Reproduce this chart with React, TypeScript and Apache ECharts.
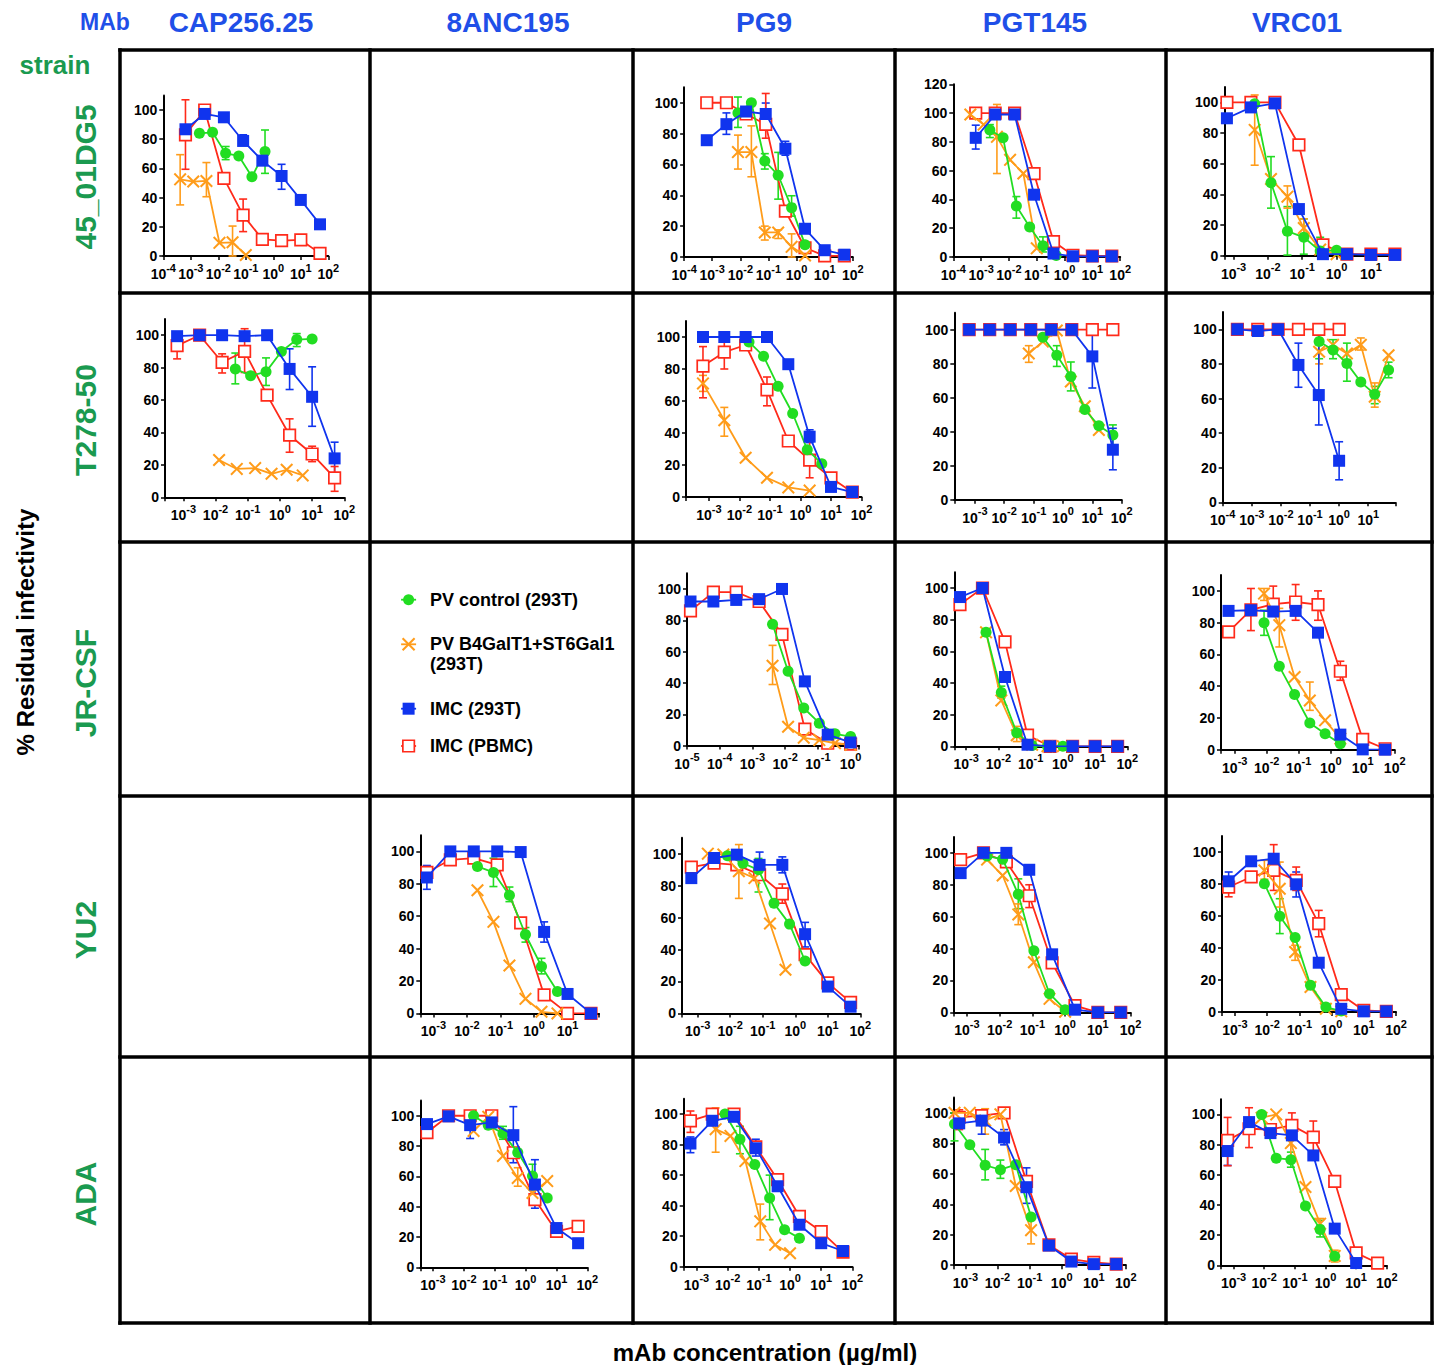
import React, { useEffect, useRef } from 'react';
import * as echarts from 'echarts';

const FONT = '"Liberation Sans", Arial, Helvetica, sans-serif';
const GREEN = '#22dd22';
const ORANGE = '#ff9c1a';
const BLUE = '#1034ee';
const RED = '#ff2a1a';
const HEAD_BLUE = '#1f4fe8';
const LABEL_GREEN = '#1a9a50';

// ---------- texts ----------
const MABS = ['CAP256.25', '8ANC195', 'PG9', 'PGT145', 'VRC01'];
const STRAINS = ['45_01DG5', 'T278-50', 'JR-CSF', 'YU2', 'ADA'];
const LEGEND_NAMES = ['PV control (293T)', 'PV B4GalT1+ST6Gal1', 'IMC (293T)', 'IMC (PBMC)'];
const Y_TICKS = [0, 20, 40, 60, 80, 100];
const Y_TICKS_120 = [0, 20, 40, 60, 80, 100, 120];

// ---------- concentrations (µg/ml) ----------
const C5_50 = [0.00064, 0.0032, 0.016, 0.08, 0.4, 2, 10, 50];
const C5_50_7 = [0.00064, 0.0032, 0.016, 0.08, 0.4, 2, 10];
const C5_50_6 = [0.00064, 0.0032, 0.016, 0.08, 0.4, 2];
const C5_1_6 = [0.00032, 0.0016, 0.008, 0.04, 0.2, 1];
const C5_1_8 = [0.0000128, 0.000064, 0.00032, 0.0016, 0.008, 0.04, 0.2, 1];
const C3_50 = [0.206, 0.617, 1.85, 5.56, 16.7, 50];
const C3_10 = [0.0412, 0.123, 0.37, 1.11, 3.33, 10];
const C3_5 = [0.0206, 0.0617, 0.185, 0.556, 1.67, 5];
const C3_2 = [0.00823, 0.0247, 0.0741, 0.222, 0.667, 2];
const C3_1 = [0.00412, 0.0123, 0.037, 0.111, 0.333, 1];
const C3_05 = [0.00206, 0.00617, 0.0185, 0.0556, 0.167, 0.5];
const C3_011 = [0.000457, 0.00137, 0.00412, 0.0123, 0.037, 0.111];
const C3_01 = [0.00041, 0.00123, 0.0037, 0.011, 0.033, 0.1];
const C_CAP_T278_GAL = [0.0129, 0.0457, 0.17, 0.55, 1.62, 5.1];
const C_PGT_T278_GAL = [0.0686, 0.206, 0.617, 1.85, 5.56, 16.7];

// ---------- 45_01DG5 ----------
const cap_s45_pv = [84, 84.7, 70.3, 68.5, 54.3, 71.5];
const cap_s45_pv_err = [[0.0185, 66, 75], [0.5, 56.6, 86.3]];
const cap_s45_gal = [52.5, 51, 51.4, 9, 9.4, 0.7];
const cap_s45_gal_err = [[0.00041, 35, 69.4], [0.0037, 40.6, 64], [0.033, 0, 20.5]];
const cap_s45_imc = [86.8, 97.3, 95, 78.8, 65.3, 54.8, 38.4, 21.7];
const cap_s45_imc_err = [[0.08, 76, 83], [2, 45.7, 62.8]];
const cap_s45_pbmc = [83, 100, 53.2, 28, 11.4, 10.5, 11, 1.8];
const cap_s45_pbmc_err = [[0.00064, 59.4, 107], [0.08, 16.7, 39]];

const pg9_s45_pv = [93.4, 100, 62.2, 53, 32, 8];
const pg9_s45_pv_err = [[0.00823, 84, 103.7], [0.0741, 57, 67], [0.222, 37.5, 67.8], [0.667, 26.5, 39.7]];
const pg9_s45_gal = [68, 68, 15.9, 15.9, 6.6, 1];
const pg9_s45_gal_err = [[0.00823, 57, 79], [0.0247, 52, 85], [0.0741, 11, 20], [0.222, 12, 17.6], [0.667, 0, 15]];
const pg9_s45_imc = [75.7, 86.1, 94.3, 92.7, 70.2, 18.3, 4.4, 1.5];
const pg9_s45_imc_err = [[0.0032, 79.5, 93.4], [0.08, 85, 99.8], [0.4, 66, 75]];
const pg9_s45_pbmc = [100, 100, 92.7, 86, 29.8, 6, 0.7, 0.7];
const pg9_s45_pbmc_err = [[0.08, 77, 106]];

const pgt_s45_pv = [88.3, 82.8, 35.5, 20.8, 7.8, 1];
const pgt_s45_pv_err = [[0.00206, 83, 92], [0.0185, 27, 42], [0.167, 3.5, 14]];
const pgt_s45_gal = [99, 92, 83.5, 67.5, 58, 6];
const pgt_s45_gal_err = [[0.0037, 58, 106]];
const pgt_s45_imc = [82.8, 99, 99, 43.3, 2.4, 0.5, 0.5, 0.5];
const pgt_s45_imc_err = [[0.00064, 75, 91.6]];
const pgt_s45_pbmc = [100, 100, 100, 58, 10.7, 1.2, 0.7, 0.7];

const vrc_s45_pv = [99, 47.6, 16, 12, 3, 3.5];
const vrc_s45_pv_err = [[0.0123, 31, 64.6], [0.037, 0.4, 32], [0.111, 1, 24], [0.333, 1, 12]];
const vrc_s45_gal = [82, 50, 38.5, 18, 4, 1];
const vrc_s45_gal_err = [[0.00412, 59, 104.8], [0.037, 31, 45.5], [0.111, 12, 24]];
const vrc_s45_imc = [89.6, 96.7, 99.3, 30.4, 1, 1, 0.5, 0.5];
const vrc_s45_pbmc = [100, 100, 100, 72.2, 7, 1, 1, 1];

// ---------- T278-50 ----------
const cap_t278_pv = [79.2, 75, 77.4, 90, 97.3, 97.7];
const cap_t278_pv_err = [[0.0412, 70, 89], [0.37, 69, 86], [3.33, 93, 101]];
const cap_t278_gal = [23, 17.5, 18, 14.5, 17, 13.5];
const cap_t278_imc = [99.4, 100, 100, 99.4, 100, 79.2, 62, 24];
const cap_t278_imc_err = [[2, 66.5, 91.6], [10, 43.8, 80.5], [50, 12.6, 34]];
const cap_t278_pbmc = [93.6, 100, 83.3, 90, 63, 38.3, 26.7, 12];
const cap_t278_pbmc_err = [[0.00064, 85.4, 101], [0.016, 76.7, 88.5], [0.08, 77, 104], [2, 27.8, 48.4], [10, 22, 31.5], [50, 3.7, 19]];

const pg9_t278_pv = [96.9, 88, 69.2, 52.2, 29.6, 20.8];
const pg9_t278_gal = [71, 48, 24.5, 12, 6, 4];
const pg9_t278_gal_err = [[0.00064, 66, 76], [0.0032, 38, 56]];
const pg9_t278_imc = [100, 100, 100, 100, 83, 37.7, 6.3, 3.1];
const pg9_t278_imc_err = [[2, 34, 42]];
const pg9_t278_pbmc = [81.8, 90.5, 95, 67, 35, 23, 12, 3];
const pg9_t278_pbmc_err = [[0.00064, 62, 94], [0.0032, 80, 98], [0.08, 57, 75], [2, 12, 38]];

const pgt_t278_pv = [95.5, 85, 72.5, 53, 43.5, 38];
const pgt_t278_pv_err = [[0.617, 78.4, 90.6], [1.85, 64, 81], [50, 31.4, 44]];
const pgt_t278_gal = [86, 93, 99.5, 69.5, 55, 41];
const pgt_t278_gal_err = [[0.0686, 80.8, 90.6]];
const pgt_t278_imc = [100, 100, 100, 100, 100, 100, 84.3, 29.4];
const pgt_t278_imc_err = [[10, 65.7, 100], [50, 17.6, 42]];
const pgt_t278_pbmc = [100, 100, 100, 100, 100, 100, 100, 100];

const vrc_t278_pv = [93, 88, 80.3, 69.5, 62.5, 76.5];
const vrc_t278_pv_err = [[0.206, 83, 100], [0.617, 83, 94], [1.85, 70, 92], [16.7, 57, 67], [50, 72, 81]];
const vrc_t278_gal = [87, 91, 86, 91, 61, 85];
const vrc_t278_gal_err = [[0.206, 80, 92], [5.56, 88, 95], [16.7, 55, 69]];
const vrc_t278_imc = [100, 99, 100, 79.4, 62, 24];
const vrc_t278_imc_err = [[0.04, 66.5, 92], [0.2, 44.7, 96.7], [1, 13, 35]];
const vrc_t278_pbmc = [100, 100, 100, 100, 100, 100];

// ---------- JR-CSF ----------
const pg9_jr_pv = [77.5, 47.5, 24, 14.3, 7.5, 5.8];
const pg9_jr_gal = [51, 12, 5, 3.5, 1.5, 0.5];
const pg9_jr_gal_err = [[0.00412, 39, 64]];
const pg9_jr_imc = [92, 92, 93, 93.5, 100, 41, 7, 2];
const pg9_jr_pbmc = [86, 98, 98, 92, 71, 10.5, 1.5, 1];

const pgt_jr_pv = [72, 34, 8.5, 0.5, 0, 0];
const pgt_jr_pv_err = [[0.0123, 30.5, 38]];
const pgt_jr_gal = [72, 29, 7, 1, 0, 0];
const pgt_jr_gal_err = [[0.037, 3, 12.6]];
const pgt_jr_imc = [94.3, 100, 43.8, 1, 0, 0, 0, 0];
const pgt_jr_pbmc = [89.5, 100, 66, 7, 0, 0, 0, 0];

const vrc_jr_pv = [80, 52.5, 34.7, 16.8, 10, 3.8];
const vrc_jr_pv_err = [[0.00823, 72, 87.8]];
const vrc_jr_gal = [98.3, 78.4, 45.8, 31, 18.5, 7];
const vrc_jr_gal_err = [[0.00823, 94, 101.5], [0.0247, 64.7, 89], [0.222, 24.8, 42.6]];
const vrc_jr_imc = [87.4, 87.8, 87, 87.4, 73.7, 9.5, 0.2, 0];
const vrc_jr_pbmc = [74.2, 88, 91.6, 93, 91.4, 49.4, 6.5, 0.6];
const vrc_jr_pbmc_err = [[0.0032, 75, 101.5], [0.016, 85, 103], [0.08, 81.5, 104], [0.4, 81.5, 100], [2, 43.7, 55.7]];

// ---------- YU2 ----------
const anc_yu2_pv = [90.7, 87, 73, 48.7, 29, 13.5];
const anc_yu2_pv_err = [[0.0617, 78.3, 95.8], [0.185, 69, 78], [0.556, 44, 53], [1.67, 24.4, 34]];
const anc_yu2_gal = [76, 56.5, 29.6, 9, 1, 0];
const anc_yu2_imc = [83.9, 100, 100, 100, 99.6, 50.3, 12, 0];
const anc_yu2_imc_err = [[0.00064, 76.6, 91.3], [2, 44, 56.5]];
const anc_yu2_pbmc = [87, 94.8, 95.9, 91.7, 55.9, 11.4, 0, 0];

const pg9_yu2_pv = [98.7, 94, 89.9, 68.9, 55.9, 32.8];
const pg9_yu2_pv_err = [[0.0741, 76, 97]];
const pg9_yu2_gal = [100, 99.5, 89, 84.7, 56.3, 27.3];
const pg9_yu2_gal_err = [[0.0185, 72, 105.7]];
const pg9_yu2_imc = [84.7, 97.3, 99.4, 93, 93, 49.6, 16.8, 4.2];
const pg9_yu2_imc_err = [[0.08, 85, 101], [0.4, 88, 98], [2, 41.6, 57]];
const pg9_yu2_pbmc = [91.6, 94.1, 93, 86.8, 74.8, 36.8, 19.1, 6.9];
const pg9_yu2_pbmc_err = [[0.4, 69, 81]];

const pgt_yu2_pv = [98, 96, 74, 38.6, 11.7, 1.7];
const pgt_yu2_pv_err = [[0.037, 65, 83.7]];
const pgt_yu2_gal = [95.8, 85.8, 61.4, 31.4, 8.5, 0.4];
const pgt_yu2_gal_err = [[0.037, 55, 68]];
const pgt_yu2_imc = [87.3, 100, 100, 89.4, 36.4, 1.7, 0, 0];
const pgt_yu2_pbmc = [95.8, 100, 94.3, 73.1, 31.1, 4.2, 0, 0];
const pgt_yu2_pbmc_err = [[0.08, 65.7, 80]];

const vrc_yu2_pv = [80.2, 59.8, 46.5, 16.7, 3.1, 0.6];
const vrc_yu2_pv_err = [[0.0247, 49, 70.8]];
const vrc_yu2_gal = [88.5, 77, 37.5, 15.6, 2, 0.4];
const vrc_yu2_gal_err = [[0.00823, 83, 94.8], [0.0247, 65.6, 93.7], [0.0741, 32.3, 41.7]];
const vrc_yu2_imc = [81.7, 94.2, 95.8, 79.8, 30.8, 2, 0.4, 0.4];
const vrc_yu2_imc_err = [[0.00064, 77, 87.5], [0.08, 71.9, 87.5]];
const vrc_yu2_pbmc = [78.1, 84.4, 88.5, 82.3, 55.2, 10.8, 1, 0.4];
const vrc_yu2_pbmc_err = [[0.00064, 72, 84], [0.016, 76, 104.6], [0.08, 76, 90.6], [0.4, 47, 63.5]];

// ---------- ADA ----------
const anc_ada_pv = [100, 93.8, 88.3, 75.7, 60.2, 45.8];
const anc_ada_pv_err = [[0.185, 84.5, 93], [1.67, 51, 68]];
const anc_ada_gal = [90, 99.3, 73.5, 59, 49, 56.9];
const anc_ada_gal_err = [[0.556, 53.5, 65.7]];
const anc_ada_imc = [94.5, 99.6, 93.8, 95.6, 87.2, 54.6, 25.9, 15.9];
const anc_ada_imc_err = [[0.016, 85, 100], [0.4, 69, 106], [2, 39, 71]];
const anc_ada_pbmc = [88.9, 100, 100, 100, 75.6, 44.7, 23.7, 27];

const pg9_ada_pv = [100, 83.5, 67, 45, 24.2, 18.7];
const pg9_ada_pv_err = [[0.0247, 74, 92], [0.222, 30.8, 60]];
const pg9_ada_gal = [90.1, 85.7, 69.2, 29.7, 14.3, 8.8];
const pg9_ada_gal_err = [[0.00412, 75, 104], [0.111, 17.6, 41]];
const pg9_ada_imc = [80.7, 95.6, 98.2, 77.6, 52.7, 27.5, 15.4, 10.3];
const pg9_ada_imc_err = [[0.00064, 74.7, 85], [0.08, 72.5, 83.5]];
const pg9_ada_pbmc = [95.6, 100, 100, 78.5, 57.1, 33, 23, 9.5];
const pg9_ada_pbmc_err = [[0.00064, 88, 102]];

const pgt_ada_pv = [92.7, 79, 65.6, 62.7, 66, 31.7];
const pgt_ada_pv_err = [[0.000457, 81.6, 100], [0.00412, 56, 76], [0.0123, 57, 69]];
const pgt_ada_gal = [100, 100, 95, 99, 52, 23];
const pgt_ada_gal_err = [[0.00412, 86, 102.7], [0.111, 14, 29.5]];
const pgt_ada_imc = [93.1, 94.9, 83.8, 51.2, 12.9, 2.4, 0.7, 0.7];
const pgt_ada_imc_err = [[0.0032, 86, 101], [0.016, 79, 89], [0.08, 40.6, 63.9]];
const pgt_ada_pbmc = [97.1, 98.2, 100, 55, 13.3, 4, 1.8, 0.7];
const pgt_ada_pbmc_err = [[0.00064, 89, 102]];

const vrc_ada_pv = [100, 71, 70, 39.3, 23.8, 6];
const vrc_ada_pv_err = [[0.0741, 65, 75], [0.667, 18.8, 29.8]];
const vrc_ada_gal = [97.8, 100, 81, 51.9, 27.6, 6.2];
const vrc_ada_gal_err = [[0.0741, 71.7, 88], [0.667, 23, 31], [2, 2.2, 10]];
const vrc_ada_imc = [75.7, 94.9, 87.6, 86.1, 72.8, 24.3, 1.5];
const vrc_ada_imc_err = [[0.00064, 66.2, 82.8]];
const vrc_ada_pbmc = [82.8, 90.5, 90, 92.7, 85, 55.6, 8.2, 1.5];
const vrc_ada_pbmc_err = [[0.00064, 66, 98], [0.0032, 78, 104.4], [0.08, 85, 101], [0.4, 74, 95.6]];

// ---------- layout (page px): left, top, right, bottom, log10(xmin), log10(xmax), ymax ----------
const PANEL_LAYOUT: number[][] = [
  [163.3, 95.4, 328.3, 256, -4, 2, 110],
  [684.1, 87.3, 852.8, 257, -4, 2, 110],
  [953.3, 84.3, 1120.2, 257, -4, 2, 120],
  [1224.3, 87, 1397.7, 255.7, -3.27, 1.78, 110],
  [165, 319, 344.3, 497.3, -3.57, 2, 110],
  [686, 321, 861.5, 497, -3.75, 2, 110],
  [954.3, 312.7, 1121.7, 499.7, -3.7, 2, 110],
  [1222.7, 312, 1395.3, 502.3, -4, 1.93, 110],
  [687, 573.3, 859.1, 745.6, -5, 0.26, 110],
  [954.3, 572.2, 1127.3, 746.3, -3.37, 2, 110],
  [1221, 575, 1394.7, 749.7, -3.43, 2, 110],
  [420.3, 835.2, 599.1, 1013.4, -3.39, 1.94, 110],
  [682, 837.7, 860.4, 1013.4, -3.48, 2, 110],
  [954.2, 836.9, 1130.6, 1012.4, -3.39, 2, 110],
  [1222, 836, 1396, 1012, -3.4, 2, 110],
  [420.3, 1100.6, 587.4, 1267.3, -3.41, 2, 110],
  [683.7, 1098.8, 852.4, 1266.7, -3.41, 2, 110],
  [954.2, 1097.6, 1125.9, 1265.2, -3.35, 2, 110],
  [1221, 1099.3, 1386.8, 1265.3, -3.41, 2, 110],
];

const TABLE_X = [120, 370, 633, 895, 1166, 1432];
const TABLE_Y = [50, 293, 542, 796, 1057, 1323];
const HEADER_X = [241, 508, 764, 1035, 1297];
const ROW_Y = [177, 420, 683, 930, 1194];

// series table per panel: [green PV control, orange PV B4GalT1+ST6Gal1, blue IMC 293T, red IMC PBMC]
type Trip = [number[], number[], number[][]];
const PANEL_SERIES: Trip[][] = [
  [[C3_05, cap_s45_pv, cap_s45_pv_err], [C3_01, cap_s45_gal, cap_s45_gal_err], [C5_50, cap_s45_imc, cap_s45_imc_err], [C5_50, cap_s45_pbmc, cap_s45_pbmc_err]],
  [[C3_2, pg9_s45_pv, pg9_s45_pv_err], [C3_2, pg9_s45_gal, pg9_s45_gal_err], [C5_50, pg9_s45_imc, pg9_s45_imc_err], [C5_50, pg9_s45_pbmc, pg9_s45_pbmc_err]],
  [[C3_05, pgt_s45_pv, pgt_s45_pv_err], [C3_01, pgt_s45_gal, pgt_s45_gal_err], [C5_50, pgt_s45_imc, pgt_s45_imc_err], [C5_50, pgt_s45_pbmc, []]],
  [[C3_1, vrc_s45_pv, vrc_s45_pv_err], [C3_1, vrc_s45_gal, vrc_s45_gal_err], [C5_50, vrc_s45_imc, []], [C5_50, vrc_s45_pbmc, []]],
  [[C3_10, cap_t278_pv, cap_t278_pv_err], [C_CAP_T278_GAL, cap_t278_gal, []], [C5_50, cap_t278_imc, cap_t278_imc_err], [C5_50, cap_t278_pbmc, cap_t278_pbmc_err]],
  [[C3_5, pg9_t278_pv, []], [C5_50_6, pg9_t278_gal, pg9_t278_gal_err], [C5_50, pg9_t278_imc, pg9_t278_imc_err], [C5_50, pg9_t278_pbmc, pg9_t278_pbmc_err]],
  [[C3_50, pgt_t278_pv, pgt_t278_pv_err], [C_PGT_T278_GAL, pgt_t278_gal, pgt_t278_gal_err], [C5_50, pgt_t278_imc, pgt_t278_imc_err], [C5_50, pgt_t278_pbmc, []]],
  [[C3_50, vrc_t278_pv, vrc_t278_pv_err], [C3_50, vrc_t278_gal, vrc_t278_gal_err], [C5_1_6, vrc_t278_imc, vrc_t278_imc_err], [C5_1_6, vrc_t278_pbmc, []]],
  [[C3_1, pg9_jr_pv, []], [C3_1, pg9_jr_gal, pg9_jr_gal_err], [C5_1_8, pg9_jr_imc, []], [C5_1_8, pg9_jr_pbmc, []]],
  [[C3_1, pgt_jr_pv, pgt_jr_pv_err], [C3_1, pgt_jr_gal, pgt_jr_gal_err], [C5_50, pgt_jr_imc, []], [C5_50, pgt_jr_pbmc, []]],
  [[C3_2, vrc_jr_pv, vrc_jr_pv_err], [C3_2, vrc_jr_gal, vrc_jr_gal_err], [C5_50, vrc_jr_imc, []], [C5_50, vrc_jr_pbmc, vrc_jr_pbmc_err]],
  [[C3_5, anc_yu2_pv, anc_yu2_pv_err], [C3_5, anc_yu2_gal, []], [C5_50, anc_yu2_imc, anc_yu2_imc_err], [C5_50, anc_yu2_pbmc, []]],
  [[C3_2, pg9_yu2_pv, pg9_yu2_pv_err], [C3_05, pg9_yu2_gal, pg9_yu2_gal_err], [C5_50, pg9_yu2_imc, pg9_yu2_imc_err], [C5_50, pg9_yu2_pbmc, pg9_yu2_pbmc_err]],
  [[C3_1, pgt_yu2_pv, pgt_yu2_pv_err], [C3_1, pgt_yu2_gal, pgt_yu2_gal_err], [C5_50, pgt_yu2_imc, []], [C5_50, pgt_yu2_pbmc, pgt_yu2_pbmc_err]],
  [[C3_2, vrc_yu2_pv, vrc_yu2_pv_err], [C3_2, vrc_yu2_gal, vrc_yu2_gal_err], [C5_50, vrc_yu2_imc, vrc_yu2_imc_err], [C5_50, vrc_yu2_pbmc, vrc_yu2_pbmc_err]],
  [[C3_5, anc_ada_pv, anc_ada_pv_err], [C3_5, anc_ada_gal, anc_ada_gal_err], [C5_50, anc_ada_imc, anc_ada_imc_err], [C5_50, anc_ada_pbmc, []]],
  [[C3_2, pg9_ada_pv, pg9_ada_pv_err], [C3_1, pg9_ada_gal, pg9_ada_gal_err], [C5_50, pg9_ada_imc, pg9_ada_imc_err], [C5_50, pg9_ada_pbmc, pg9_ada_pbmc_err]],
  [[C3_011, pgt_ada_pv, pgt_ada_pv_err], [C3_011, pgt_ada_gal, pgt_ada_gal_err], [C5_50, pgt_ada_imc, pgt_ada_imc_err], [C5_50, pgt_ada_pbmc, pgt_ada_pbmc_err]],
  [[C3_2, vrc_ada_pv, vrc_ada_pv_err], [C3_2, vrc_ada_gal, vrc_ada_gal_err], [C5_50_7, vrc_ada_imc, vrc_ada_imc_err], [C5_50, vrc_ada_pbmc, vrc_ada_pbmc_err]],
];

const X_PATH = 'path://M0,1.1L1.1,0L5,3.9L8.9,0L10,1.1L6.1,5L10,8.9L8.9,10L5,6.1L1.1,10L0,8.9L3.9,5Z';

const KINDS = [
  { color: GREEN, symbol: 'circle', size: 11, z: 5 },
  { color: ORANGE, symbol: X_PATH, size: 13, z: 4 },
  { color: BLUE, symbol: 'rect', size: 12, z: 6 },
  { color: RED, symbol: 'rect', size: 11.5, z: 3 },
];

const RICH = {
  b: { fontSize: 14, fontWeight: 'bold', fontFamily: FONT, color: '#000', padding: [5, 0, 0, 0] },
  s: { fontSize: 11, fontWeight: 'bold', fontFamily: FONT, color: '#000', verticalAlign: 'top' },
};

function decadeLabel(v: number): string {
  const e = Math.log10(v);
  const r = Math.round(e);
  if (Math.abs(e - r) > 0.02) return '';
  return `{b|10}{s|${r}}`;
}

function txt(text: string, x: number, y: number, size: number, color: string, rot = 0, align = 'center') {
  return {
    type: 'text', x, y, rotation: rot, silent: true,
    style: {
      text, fill: color, fontSize: size, fontWeight: 'bold', fontFamily: FONT,
      align, verticalAlign: 'middle', textAlign: align, textVerticalAlign: 'middle',
    },
  };
}

function buildOption() {
  const grid: any[] = [];
  const xAxis: any[] = [];
  const yAxis: any[] = [];
  const series: any[] = [];

  PANEL_LAYOUT.forEach((p, i) => {
    const [l, t, r, b, xe0, xe1, ymax] = p;
    grid.push({ left: l, top: t, width: r - l, height: b - t, containLabel: false });
    xAxis.push({
      type: 'log', logBase: 10, gridIndex: i,
      min: Math.pow(10, xe0), max: Math.pow(10, xe1),
      axisLine: { show: true, onZero: false, lineStyle: { color: '#000', width: 2 } },
      axisTick: { show: true, length: 4, lineStyle: { color: '#000', width: 1.5 } },
      minorTick: { show: false },
      splitLine: { show: false },
      axisLabel: { margin: 6, color: '#000', formatter: decadeLabel, rich: RICH },
    });
    const ticks = ymax === 120 ? Y_TICKS_120 : Y_TICKS;
    yAxis.push({
      type: 'value', gridIndex: i, min: 0, max: ymax, interval: 20,
      axisLine: { show: true, onZero: false, lineStyle: { color: '#000', width: 2 } },
      axisTick: { show: true, length: 4, lineStyle: { color: '#000', width: 1.5 }, customValues: ticks },
      splitLine: { show: false },
      axisLabel: {
        margin: 6, color: '#000', fontSize: 14, fontWeight: 'bold', fontFamily: FONT,
        customValues: ticks,
        formatter: (v: number) => (v > 100 && ymax !== 120 ? '' : String(v)),
      },
    });

    const set = PANEL_SERIES[i];
    set.forEach((trip, k) => {
      const err = trip[2];
      const kind = KINDS[k];
      if (err.length) {
        series.push({
          type: 'custom', xAxisIndex: i, yAxisIndex: i, data: err, encode: { x: 0, y: [1, 2] },
          silent: true, z: 2, clip: false, animation: false,
          renderItem: (_params: any, api: any) => {
            const x = api.value(0), lo = api.value(1), hi = api.value(2);
            const a = api.coord([x, hi]);
            const c = api.coord([x, lo]);
            const w = 4;
            const style = { stroke: kind.color, lineWidth: 1.6, fill: 'none' };
            return {
              type: 'group',
              children: [
                { type: 'line', shape: { x1: a[0], y1: a[1], x2: c[0], y2: c[1] }, style },
                { type: 'line', shape: { x1: a[0] - w, y1: a[1], x2: a[0] + w, y2: a[1] }, style },
                { type: 'line', shape: { x1: c[0] - w, y1: c[1], x2: c[0] + w, y2: c[1] }, style },
              ],
            };
          },
        });
      }
    });
    set.forEach((trip, k) => {
      const [xs, ys] = trip;
      const kind = KINDS[k];
      series.push({
        type: 'line', xAxisIndex: i, yAxisIndex: i, silent: true, animation: false,
        name: LEGEND_NAMES[k],
        data: ys.map((y, j) => [xs[j], y]),
        symbol: kind.symbol, symbolSize: kind.size, showSymbol: true, z: kind.z,
        lineStyle: { color: kind.color, width: 1.8 },
        itemStyle: k === 3
          ? { color: '#ffffff', borderColor: RED, borderWidth: 1.7 }
          : { color: kind.color, borderWidth: 0 },
        emphasis: { disabled: true },
      });
    });
  });

  const els: any[] = [];
  TABLE_X.forEach((x) => els.push({ type: 'line', silent: true, shape: { x1: x, y1: TABLE_Y[0], x2: x, y2: TABLE_Y[5] }, style: { stroke: '#000', lineWidth: 3.5, lineCap: 'square' } }));
  TABLE_Y.forEach((y) => els.push({ type: 'line', silent: true, shape: { x1: TABLE_X[0], y1: y, x2: TABLE_X[5], y2: y }, style: { stroke: '#000', lineWidth: 3.5, lineCap: 'square' } }));
  els.push(txt('MAb', 105, 22, 23, HEAD_BLUE));
  MABS.forEach((m, i) => els.push(txt(m, HEADER_X[i], 22, 28, HEAD_BLUE)));
  els.push(txt('strain', 55, 65, 26, LABEL_GREEN));
  STRAINS.forEach((s, i) => els.push(txt(s, 85, ROW_Y[i], 30, LABEL_GREEN, Math.PI / 2)));
  els.push(txt('% Residual infectivity', 25, 632, 24, '#000', Math.PI / 2));
  els.push(txt('mAb concentration (µg/ml)', 765, 1352, 24, '#000'));

  // legend
  const LX = 408.6;
  const LY = [599.7, 644.3, 708.7, 746];
  const TX = 430;
  LY.forEach((y, k) => {
    els.push({ type: 'line', silent: true, shape: { x1: LX - 7.5, y1: y, x2: LX + 7.5, y2: y }, style: { stroke: KINDS[k].color, lineWidth: 1.8 } });
  });
  els.push({ type: 'circle', silent: true, shape: { cx: LX, cy: LY[0], r: 5.5 }, style: { fill: GREEN } });
  els.push({ type: 'line', silent: true, shape: { x1: LX - 6, y1: LY[1] - 6, x2: LX + 6, y2: LY[1] + 6 }, style: { stroke: ORANGE, lineWidth: 2 } });
  els.push({ type: 'line', silent: true, shape: { x1: LX - 6, y1: LY[1] + 6, x2: LX + 6, y2: LY[1] - 6 }, style: { stroke: ORANGE, lineWidth: 2 } });
  els.push({ type: 'rect', silent: true, shape: { x: LX - 6, y: LY[2] - 6, width: 12, height: 12 }, style: { fill: BLUE } });
  els.push({ type: 'rect', silent: true, shape: { x: LX - 5.75, y: LY[3] - 5.75, width: 11.5, height: 11.5 }, style: { fill: '#fff', stroke: RED, lineWidth: 1.7 } });
  els.push(txt(LEGEND_NAMES[0], TX, LY[0], 18, '#000', 0, 'left'));
  els.push(txt(LEGEND_NAMES[1], TX, LY[1], 18, '#000', 0, 'left'));
  els.push(txt('(293T)', TX, 664.4, 18, '#000', 0, 'left'));
  els.push(txt(LEGEND_NAMES[2], TX, LY[2], 18, '#000', 0, 'left'));
  els.push(txt(LEGEND_NAMES[3], TX, LY[3], 18, '#000', 0, 'left'));

  return {
    animation: false,
    backgroundColor: '#ffffff',
    textStyle: { fontFamily: FONT },
    grid, xAxis, yAxis, series,
    graphic: { elements: els },
  };
}

export default function App() {
  const ref = useRef<HTMLDivElement>(null);
  useEffect(() => {
    if (!ref.current) return;
    const chart = echarts.init(ref.current, undefined, { renderer: 'svg' });
    chart.setOption(buildOption() as any);
    return () => chart.dispose();
  }, []);
  return (
    <div
      ref={ref}
      style={{ position: 'absolute', left: 0, top: 0, width: 1438, height: 1365, background: '#fff' }}
    />
  );
}
